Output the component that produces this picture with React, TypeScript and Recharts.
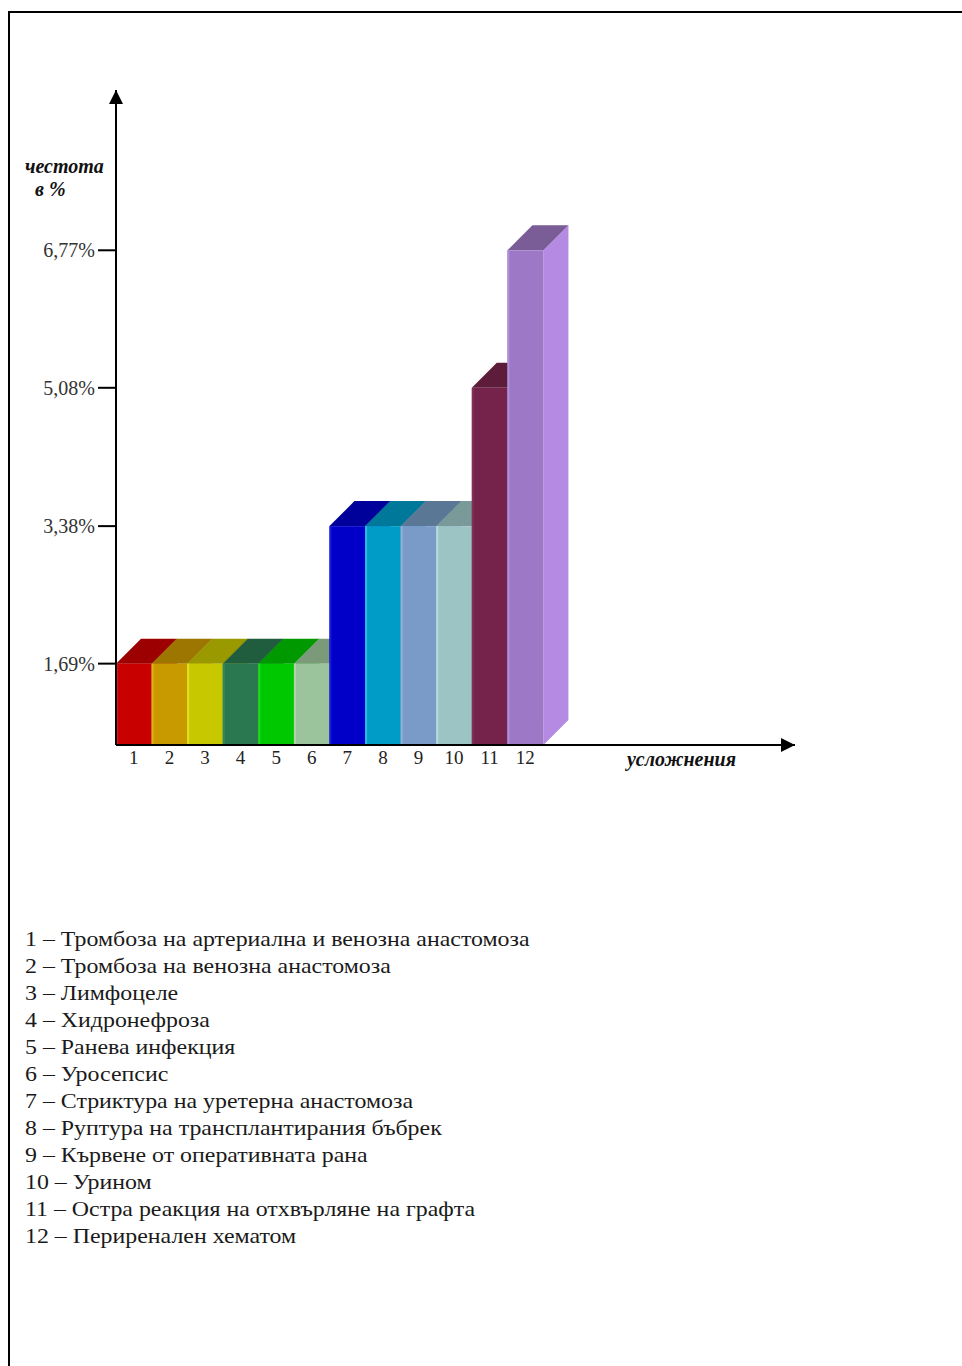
import React from 'react';
import { BarChart, Bar, XAxis, YAxis, Label } from 'recharts';

// Complication numbers shown under the bars
const categories = ['1', '2', '3', '4', '5', '6', '7', '8', '9', '10', '11', '12'];

// Frequency of each complication, in %
const frequencies = [1.69, 1.69, 1.69, 1.69, 1.69, 1.69, 3.38, 3.38, 3.38, 3.38, 5.08, 6.77];

// Values marked on the vertical axis
const yTicks = [1.69, 3.38, 5.08, 6.77];

// Value range of the vertical axis (bottom of the axis to the arrow tip)
const yDomain: [number, number] = [0.69, 8.74];

// Names of the complications, listed under the chart
const complications = [
  'Тромбоза на артериална и венозна анастомоза',
  'Тромбоза на венозна анастомоза',
  'Лимфоцеле',
  'Хидронефроза',
  'Ранева инфекция',
  'Уросепсис',
  'Стриктура на уретерна анастомоза',
  'Руптура на трансплантирания бъбрек',
  'Кървене от оперативната рана',
  'Урином',
  'Остра реакция на отхвърляне на графта',
  'Периренален хематом',
];

const data = categories.map((name, i) => ({ name, value: frequencies[i] }));

// Face colours of every bar: front, top, right side and the thin light edge
const frontColors = ['#c80000', '#c89a00', '#c8c800', '#2a7850', '#00c800', '#9cc49c', '#0000c8', '#009cc8', '#7a9ac8', '#9cc4c4', '#76234c', '#9c78c6'];
const topColors = ['#9c0000', '#9c7600', '#9a9a00', '#205c3e', '#009a00', '#7a9a7a', '#00009a', '#00789a', '#5a7896', '#7a9a9a', '#5c1c3a', '#7a5c96'];
const sideColors = ['#e03030', '#e0b030', '#e0e030', '#3a9066', '#30e030', '#b4dcb4', '#3030e0', '#30b4e0', '#94b4e0', '#b4dcdc', '#8e3462', '#b48ae2'];
const edgeColors = ['#d81818', '#e0b018', '#e0e020', '#348860', '#20d820', '#b0d4b0', '#1818d8', '#30b8e0', '#90b0d8', '#b0dcdc', '#803058', '#b090d8'];

const DEPTH = 25;
const SERIF = '"Liberation Serif", "Times New Roman", serif';

const Bar3D = (props: any) => {
  const { x, y, width, height, index } = props;
  if (width == null || height == null) return null;
  const d = DEPTH;
  const r = x + width;
  const b = y + height;
  return (
    <g>
      <polygon points={`${r},${y} ${r + d},${y - d} ${r + d},${b - d} ${r},${b}`} fill={sideColors[index]} />
      <polygon points={`${x},${y} ${x + d},${y - d} ${r + d},${y - d} ${r},${y}`} fill={topColors[index]} />
      <rect x={x} y={y} width={width} height={height} fill={frontColors[index]} />
      <rect x={x} y={y} width={2} height={height} fill={edgeColors[index]} />
    </g>
  );
};

const formatPercent = (v: number) => `${v.toFixed(2).replace('.', ',')}%`;

const YTitle = (props: any) => {
  const vb = props.viewBox || {};
  return (
    <text fontFamily={SERIF} fontWeight="bold" fontStyle="italic" fontSize={20} fill="#111">
      <tspan x={vb.x + 9} y={vb.y + 83}>честота</tspan>
      <tspan x={vb.x + 19} y={vb.y + 106}>в %</tspan>
    </text>
  );
};

const XTitle = (props: any) => {
  const vb = props.viewBox || {};
  return (
    <text
      x={vb.x + vb.width - 59}
      y={vb.y + 21}
      textAnchor="end"
      fontFamily={SERIF}
      fontWeight="bold"
      fontStyle="italic"
      fontSize={20}
      fill="#111"
    >
      усложнения
    </text>
  );
};

export default function App() {
  return (
    <div style={{ position: 'relative', width: 962, height: 1366, background: '#fff', overflow: 'hidden' }}>
      <style>{'body{margin:0;overflow:hidden;}'}</style>
      {/* page frame */}
      <div
        style={{
          position: 'absolute',
          left: 8,
          top: 11,
          width: 954,
          height: 1355,
          borderTop: '2px solid #000',
          borderLeft: '2px solid #000',
          boxSizing: 'border-box',
        }}
      />
      <div style={{ position: 'absolute', left: 0, top: 0 }}>
        <BarChart
          width={962}
          height={800}
          data={data}
          margin={{ top: 90, right: 167, bottom: 25, left: 16 }}
          barCategoryGap={0}
          barGap={0}
        >
          <defs>
            <marker
              id="axisArrow"
              markerUnits="userSpaceOnUse"
              markerWidth={14}
              markerHeight={14}
              viewBox="0 0 14 14"
              refX={14}
              refY={7}
              orient="auto-start-reverse"
            >
              <path d="M0,0 L14,7 L0,14 Z" fill="#000" />
            </marker>
          </defs>
          <XAxis
            dataKey="name"
            interval={0}
            height={30}
            padding={{ left: 0, right: 252 }}
            tickLine={false}
            tickSize={0}
            tickMargin={6}
            axisLine={{ stroke: '#000', strokeWidth: 2, markerEnd: 'url(#axisArrow)' }}
            tick={{ fontSize: 19, fill: '#222', fontFamily: SERIF }}
          >
            <Label content={XTitle} />
          </XAxis>
          <YAxis
            type="number"
            domain={yDomain}
            ticks={yTicks}
            interval={0}
            width={100}
            tickSize={18}
            tickMargin={3}
            tickFormatter={formatPercent}
            axisLine={{ stroke: '#000', strokeWidth: 2, markerStart: 'url(#axisArrow)' }}
            tickLine={{ stroke: '#000', strokeWidth: 2 }}
            tick={{ fontSize: 20, fill: '#333', fontFamily: SERIF }}
          >
            <Label content={YTitle} />
          </YAxis>
          <Bar dataKey="value" shape={Bar3D} isAnimationActive={false} />
        </BarChart>
      </div>
      {/* list of complications */}
      <div
        style={{
          position: 'absolute',
          left: 25,
          top: 925,
          fontFamily: SERIF,
          fontSize: 22,
          color: '#1a1a1a',
          transform: 'scaleX(1.085)',
          transformOrigin: '0 0',
        }}
      >
        {complications.map((name, i) => (
          <div key={name} style={{ height: 27, lineHeight: '27px', whiteSpace: 'nowrap' }}>
            {`${categories[i]} – ${name}`}
          </div>
        ))}
      </div>
    </div>
  );
}
